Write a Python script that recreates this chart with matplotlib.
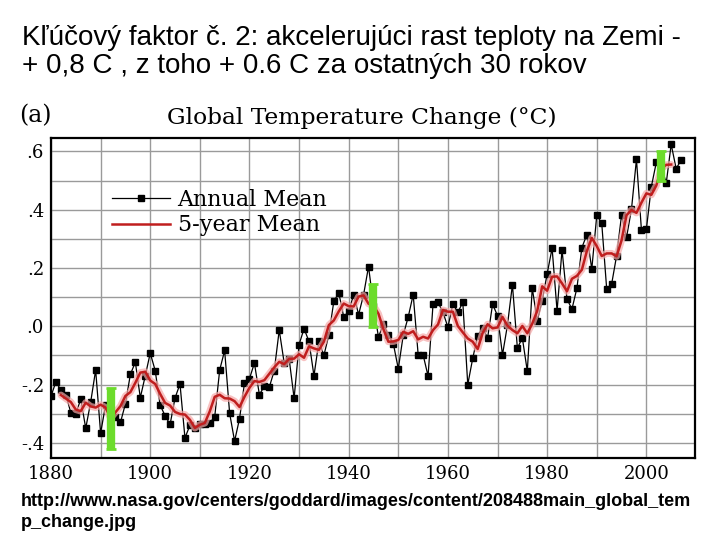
import numpy as np
import matplotlib
matplotlib.use("Agg")
import matplotlib.pyplot as plt

# texty slajdu
nadpis_1 = "Kľúčový faktor č. 2: akcelerujúci rast teploty na Zemi -"
nadpis_2 = "+ 0,8 C , z toho + 0.6 C za ostatných 30 rokov"
zdroj_1 = "http://www.nasa.gov/centers/goddard/images/content/208488main_global_tem"
zdroj_2 = "p_change.jpg"

# rocne priemery (odcitane z obrazka)
roky = list(range(1880, 2008))
rocny_priemer = [
    -0.24, -0.19, -0.22, -0.235, -0.297, -0.30, -0.25, -0.35, -0.26, -0.15,
    -0.367, -0.27, -0.30, -0.31, -0.33, -0.266, -0.165, -0.123, -0.245, -0.17,
    -0.092, -0.152, -0.271, -0.307, -0.337, -0.246, -0.198, -0.383, -0.34, -0.35,
    -0.335, -0.335, -0.332, -0.31, -0.15, -0.083, -0.298, -0.394, -0.317, -0.195,
    -0.18, -0.126, -0.235, -0.205, -0.209, -0.152, -0.013, -0.126, -0.112, -0.247,
    -0.063, -0.008, -0.052, -0.17, -0.052, -0.10, -0.03, 0.085, 0.115, 0.032,
    0.051, 0.108, 0.04, 0.108, 0.205, 0.07, -0.037, 0.008, -0.03, -0.06,
    -0.146, -0.03, 0.032, 0.109, -0.097, -0.098, -0.171, 0.076, 0.082, 0.048,
    -0.003, 0.076, 0.048, 0.082, -0.20, -0.11, -0.032, -0.007, -0.04, 0.076,
    0.036, -0.098, 0.004, 0.143, -0.075, -0.04, -0.154, 0.131, 0.019, 0.088,
    0.18, 0.268, 0.053, 0.262, 0.093, 0.059, 0.131, 0.27, 0.314, 0.196,
    0.381, 0.354, 0.128, 0.145, 0.242, 0.382, 0.305, 0.402, 0.573, 0.331,
    0.333, 0.479, 0.562, 0.55, 0.491, 0.624, 0.541, 0.57,
]

# 5-rocny priemer (cervena krivka, 1882-2005)
roky_5 = list(range(1882, 2006))
priemer_5 = [
    -0.236, -0.248, -0.260, -0.286, -0.291, -0.262, -0.275, -0.279, -0.269, -0.279,
    -0.315, -0.295, -0.274, -0.239, -0.226, -0.194, -0.159, -0.156, -0.186, -0.198,
    -0.232, -0.263, -0.272, -0.294, -0.301, -0.303, -0.321, -0.349, -0.338, -0.332,
    -0.292, -0.242, -0.235, -0.247, -0.248, -0.257, -0.277, -0.242, -0.211, -0.188,
    -0.191, -0.185, -0.163, -0.141, -0.122, -0.130, -0.112, -0.111, -0.096, -0.108,
    -0.069, -0.076, -0.081, -0.053, 0.004, 0.020, 0.051, 0.078, 0.069, 0.068,
    0.102, 0.106, 0.077, 0.071, 0.043, -0.010, -0.053, -0.052, -0.047, -0.019,
    -0.026, -0.017, -0.045, -0.036, -0.042, -0.013, 0.006, 0.056, 0.050, 0.050,
    0.001, -0.021, -0.042, -0.053, -0.078, -0.023, 0.007, -0.007, -0.004, 0.032,
    0.002, -0.013, -0.024, 0.001, -0.024, 0.009, 0.053, 0.137, 0.122, 0.170,
    0.171, 0.147, 0.120, 0.163, 0.173, 0.194, 0.258, 0.303, 0.275, 0.241,
    0.250, 0.250, 0.240, 0.295, 0.381, 0.399, 0.389, 0.424, 0.456, 0.451,
    0.483, 0.541, 0.554, 0.555,
]

# neistoty (zelene usecky)
chyba_roky = [1892, 1945, 2003]
chyba_stred = [-0.316, 0.071, 0.55]
chyba_pol = [0.104, 0.074, 0.05]

y_popisky = [".6", ".4", ".2", ".0", "-.2", "-.4"]
y_hodnoty = [0.6, 0.4, 0.2, 0.0, -0.2, -0.4]
x_hodnoty = [1880, 1900, 1920, 1940, 1960, 1980, 2000]

serif = "DejaVu Serif"
sans = "Liberation Sans"

fig = plt.figure(figsize=(7.2, 5.4), dpi=100)
fig.patch.set_facecolor("white")

fig.text(22 / 720, 1 - 45 / 540, nadpis_1, fontsize=20, family=sans, va="baseline")
fig.text(22 / 720, 1 - 73 / 540, nadpis_2, fontsize=20, family=sans, va="baseline")
fig.text(21 / 720, 1 - 506 / 540, zdroj_1, fontsize=13, family=sans,
         weight="bold", va="baseline")
fig.text(21 / 720, 1 - 527 / 540, zdroj_2, fontsize=13, family=sans,
         weight="bold", va="baseline")

fig.text(19 / 720, 1 - 122 / 540, "(a)", fontsize=17, family=serif, va="baseline")
fig.text(362 / 720, 1 - 124 / 540, "Global Temperature Change (°C)", fontsize=16.8,
         family=serif, va="baseline", ha="center")

ax = fig.add_axes([51 / 720, 1 - 458 / 540, 644 / 720, 320 / 540])
ax.set_xlim(1880, 2009.8)
ax.set_ylim(-0.452, 0.646)

ax.set_xticks(x_hodnoty)
ax.set_xticks(range(1890, 2010, 20), minor=True)
ax.set_yticks(y_hodnoty)
ax.set_yticks([0.5, 0.3, 0.1, -0.1, -0.3], minor=True)
ax.set_yticklabels(y_popisky)
ax.set_xticklabels([str(r) for r in x_hodnoty])
ax.grid(True, which="both", color="#9a9a9a", lw=1.0)
ax.set_axisbelow(True)
ax.tick_params(which="both", length=0)
ax.tick_params(axis="x", pad=5, labelsize=13)
ax.tick_params(axis="y", pad=5, labelsize=13)
for lab in ax.get_xticklabels() + ax.get_yticklabels():
    lab.set_family(serif)
for s in ax.spines.values():
    s.set_linewidth(1.6)
    s.set_color("black")

ax.plot(roky, rocny_priemer, color="black", lw=0.9, marker="s", ms=5,
        mfc="black", mec="black", zorder=3, label="Annual Mean")
ax.plot(roky_5, priemer_5, color="#f6a8a8", lw=5, alpha=0.7, zorder=4, solid_capstyle="round")
ax.plot(roky_5, priemer_5, color="#c01e1e", lw=1.8, zorder=5, label="5-year Mean")
ax.errorbar(chyba_roky, chyba_stred, yerr=chyba_pol, fmt="none", ecolor="#6cdc2c",
            elinewidth=6, capsize=3.5, capthick=2, zorder=6)

leg = ax.legend(loc="upper left", bbox_to_anchor=(112 / 720, 1 - 189 / 540),
                bbox_transform=fig.transFigure, frameon=False, borderpad=0,
                borderaxespad=0, handlelength=2.6, handletextpad=0.35,
                labelspacing=0.15, prop={"family": serif, "size": 16})

fig.savefig("out.png", dpi=100)
